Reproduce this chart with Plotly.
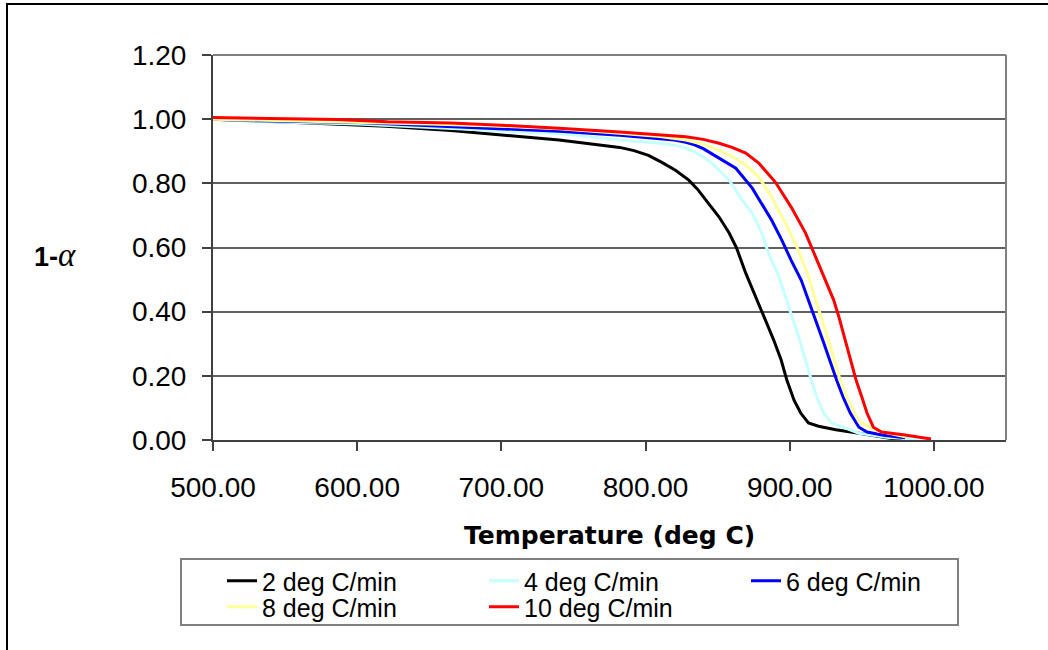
import plotly.graph_objects as go

# ---------------- data ----------------
series_names = ["2 deg C/min", "4 deg C/min", "6 deg C/min", "8 deg C/min", "10 deg C/min"]
series_colors = ["#000000", "#c6ffff", "#0000ff", "#ffff99", "#ff0000"]
series_legend = ["legend", "legend", "legend", "legend2", "legend2"]

t_2 = [500, 530, 580, 620, 665, 700, 740, 782, 792, 802, 811, 821, 830, 836, 842, 851, 858, 863,
       869.5, 877, 883, 889, 894, 898, 903, 907.6, 913, 920, 932, 948, 961.6, 970.6, 978]
v_2 = [1.00, 0.995, 0.985, 0.978, 0.965, 0.95, 0.935, 0.912, 0.902, 0.887, 0.866, 0.84, 0.81,
       0.782, 0.748, 0.695, 0.645, 0.60, 0.52, 0.436, 0.375, 0.31, 0.25, 0.187, 0.124, 0.084,
       0.053, 0.043, 0.032, 0.021, 0.01, 0.005, 0.003]

t_4 = [500, 530, 600, 650, 700, 740, 782, 810, 820, 828, 834, 840, 846, 858, 867, 874, 880.6, 885.5,
       892.4, 898, 907, 915, 918.7, 923.5, 929, 938.7, 948, 968.5, 989]
v_4 = [1.00, 0.993, 0.985, 0.975, 0.965, 0.955, 0.935, 0.925, 0.919, 0.91, 0.898, 0.882, 0.863,
       0.81, 0.748, 0.707, 0.645, 0.58, 0.51, 0.436, 0.31, 0.187, 0.134, 0.084, 0.053, 0.037,
       0.021, 0.008, 0.003]

t_6 = [500, 530, 600, 650, 700, 740, 782, 810, 820, 828, 834, 840, 851, 862.6, 874, 880.6, 887.5,
       894.5, 901, 908, 913, 923, 932.5, 937, 942, 948, 953.6, 965, 980]
v_6 = [1.00, 0.995, 0.99, 0.98, 0.97, 0.962, 0.95, 0.94, 0.935, 0.928, 0.92, 0.908, 0.878, 0.847,
       0.785, 0.738, 0.685, 0.623, 0.56, 0.498, 0.436, 0.31, 0.187, 0.134, 0.084, 0.04, 0.025,
       0.015, 0.007]

t_8 = [500, 530, 600, 650, 700, 740, 782, 810, 828, 840, 851, 860, 869.5, 878.5, 887.5, 897, 906,
       913, 918, 927, 935, 941, 948, 959.5, 980]
v_8 = [1.00, 0.997, 0.992, 0.985, 0.978, 0.97, 0.956, 0.946, 0.935, 0.922, 0.903, 0.884, 0.857,
       0.82, 0.757, 0.676, 0.592, 0.51, 0.436, 0.31, 0.187, 0.12, 0.058, 0.03, 0.01]

t_10 = [500, 530, 586, 621, 665, 700, 740, 782, 810, 828, 840, 851, 860, 869.5, 878.5, 890, 901,
        911, 918, 925, 930.5, 934, 939, 946, 950, 953.6, 958, 963.7, 980, 998]
v_10 = [1.005, 1.003, 0.999, 0.992, 0.988, 0.981, 0.972, 0.96, 0.952, 0.945, 0.937, 0.925, 0.912,
        0.894, 0.863, 0.804, 0.726, 0.645, 0.57, 0.498, 0.436, 0.385, 0.3, 0.187, 0.134, 0.084,
        0.04, 0.025, 0.0156, 0.003]

x_ticks = [500, 600, 700, 800, 900, 1000]
y_ticks = [0.0, 0.2, 0.4, 0.6, 0.8, 1.0, 1.2]

series_t = [t_2, t_4, t_6, t_8, t_10]
series_v = [v_2, v_4, v_6, v_8, v_10]

# ---------------- figure ----------------
FONT = "Liberation Sans, Arial, sans-serif"
fig = go.Figure()
for name, color, lg, t, v in zip(series_names, series_colors, series_legend, series_t, series_v):
    fig.add_trace(go.Scatter(x=t, y=v, mode="lines", name=name, legend=lg,
                             line=dict(color=color, width=3)))

# plot area: x 213..1006, y 55..440
L, R, T, B = 213, 42, 55, 210
W, H = 1048, 650
pw, ph = W - L - R, H - T - B

def px(xp):
    return (xp - L) / pw

def py(yp):
    return (H - B - yp) / ph

legend_common = dict(
    orientation="h", xanchor="left", yanchor="middle",
    entrywidth=217, entrywidthmode="pixels",
    borderwidth=0, bgcolor="rgba(0,0,0,0)",
    font=dict(family=FONT, size=25, color="black"),
    traceorder="normal", tracegroupgap=0,
)

fig.update_layout(
    width=W, height=H,
    margin=dict(l=L, r=R, t=T, b=B, pad=0),
    paper_bgcolor="white", plot_bgcolor="white",
    font=dict(family=FONT, color="black"),
    showlegend=True,
    legend=dict(x=px(222), y=py(581), **legend_common),
    legend2=dict(x=px(222), y=py(607), **legend_common),
    xaxis=dict(
        range=[500, 1050], tickmode="array", tickvals=x_ticks,
        ticktext=[f"{v:.2f}" for v in x_ticks],
        ticks="outside", ticklen=9, tickwidth=1.5, tickcolor="#404040",
        showline=True, linecolor="#404040", linewidth=2,
        showgrid=False, zeroline=False,
        tickfont=dict(family=FONT, size=28, color="black"),
        ticklabelstandoff=12,
    ),
    yaxis=dict(
        range=[0, 1.2], tickmode="array", tickvals=y_ticks,
        ticktext=[f"{v:.2f}" for v in y_ticks],
        ticks="outside", ticklen=9, tickwidth=1.5, tickcolor="#404040",
        showline=True, linecolor="#404040", linewidth=2,
        showgrid=True, gridcolor="#606060", gridwidth=1.5, zeroline=False,
        tickfont=dict(family=FONT, size=28, color="black"),
        ticklabelstandoff=10,
    ),
    shapes=[
        # top and right border of plot area
        dict(type="line", xref="paper", yref="paper", x0=0, x1=1, y0=1, y1=1,
             line=dict(color="#808080", width=2)),
        dict(type="line", xref="paper", yref="paper", x0=1, x1=1, y0=0, y1=1,
             line=dict(color="#808080", width=2)),
        # legend box
        dict(type="rect", xref="paper", yref="paper", x0=px(181), x1=px(958),
             y0=py(559), y1=py(625), line=dict(color="#808080", width=2),
             fillcolor="rgba(0,0,0,0)"),
        # outer chart frame
        dict(type="rect", xref="paper", yref="paper", x0=px(7), x1=px(1080),
             y0=py(4), y1=py(680), line=dict(color="black", width=2),
             fillcolor="rgba(0,0,0,0)", layer="below"),
    ],
    annotations=[
        dict(text="Temperature (deg C)", xref="paper", yref="paper",
             x=0.5, y=py(535), xanchor="center", yanchor="middle", showarrow=False,
             font=dict(family="DejaVu Sans", size=25, color="black", weight="bold")),
        dict(text="<b>1-</b><span style='font-family:Liberation Serif;font-size:33px'><i>α</i></span>",
             xref="paper", yref="paper", x=px(55), y=py(255),
             xanchor="center", yanchor="middle", showarrow=False,
             font=dict(family=FONT, size=27, color="black")),
    ],
)

fig.write_html("out.html")
